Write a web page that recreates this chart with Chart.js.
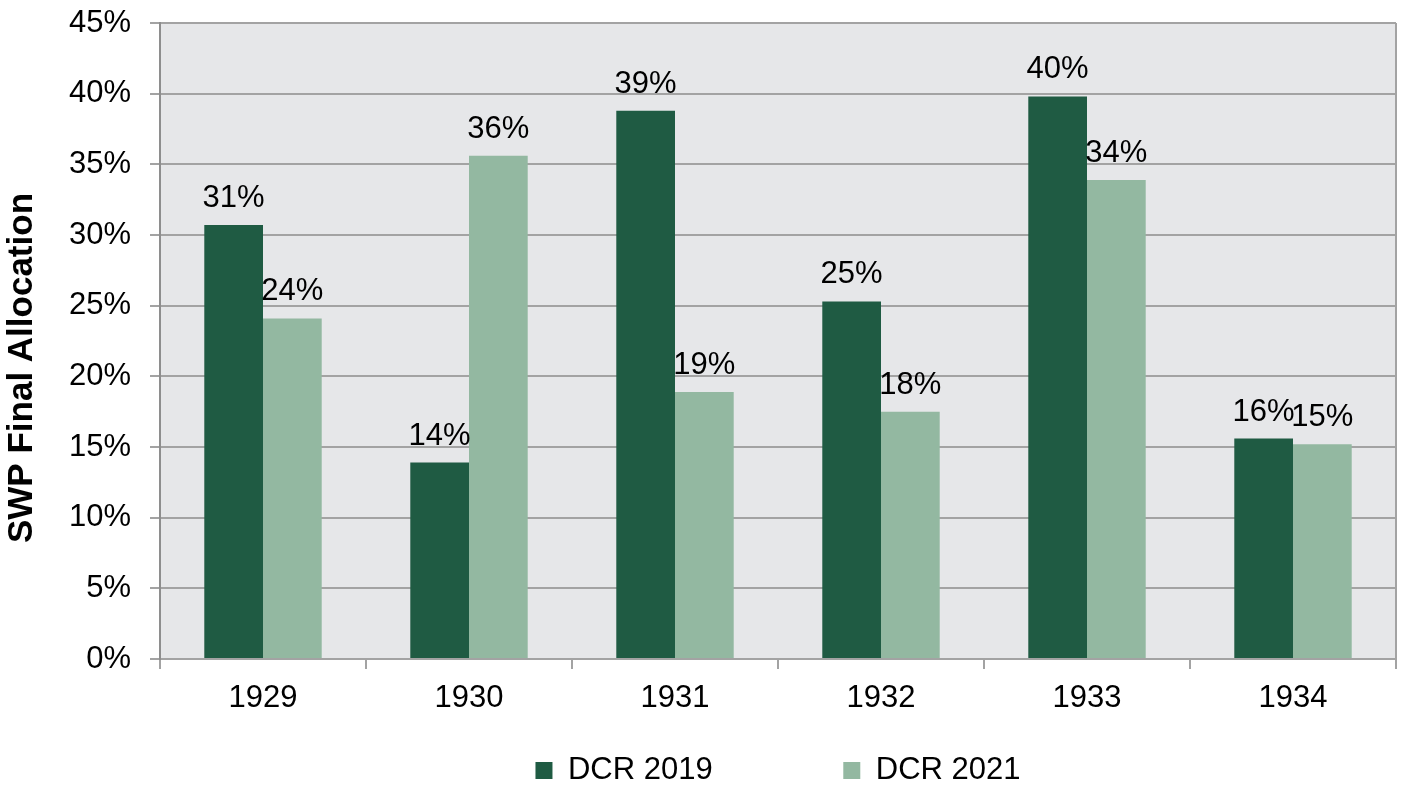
<!DOCTYPE html>
<html>
<head>
<meta charset="utf-8">
<script src="https://cdn.jsdelivr.net/npm/chart.js@4.4.1/dist/chart.umd.min.js"></script>
<style>
	html, body { margin: 0; padding: 0; background: #fff; }
</style>
</head>
<body>
<canvas id="allocationChart" width="1405" height="789"></canvas>
<script>
var years = ['1929', '1930', '1931', '1932', '1933', '1934'];
var dcr2019 = [30.7, 13.9, 38.8, 25.3, 39.8, 15.6];
var dcr2021 = [24.1, 35.6, 18.9, 17.5, 33.9, 15.2];
var yTicks = [0, 5, 10, 15, 20, 25, 30, 35, 40, 45];

var fontFamily = "'Liberation Sans', Arial, sans-serif";
var gridGray = '#a3a3a3';

// grey plot area, right border and the y title
var plotArea = {
	id: 'plotArea',
	beforeDraw: function(chart) {
		var a = chart.chartArea, ctx = chart.ctx;
		ctx.save();
		ctx.fillStyle = '#e6e7e9';
		ctx.fillRect(a.left, a.top, a.right - a.left, a.bottom - a.top);
		ctx.restore();
	},
	afterDraw: function(chart) {
		var a = chart.chartArea, ctx = chart.ctx;
		ctx.save();
		ctx.strokeStyle = gridGray;
		ctx.lineWidth = 2;
		ctx.beginPath();
		ctx.moveTo(a.right, a.top);
		ctx.lineTo(a.right, a.bottom);
		ctx.stroke();
		ctx.translate(22, (a.top + a.bottom) / 2 + 27);
		ctx.rotate(-Math.PI / 2);
		ctx.fillStyle = '#000';
		ctx.font = 'bold 35px ' + fontFamily;
		ctx.textAlign = 'center';
		ctx.textBaseline = 'middle';
		ctx.fillText('SWP Final Allocation', 0, 0);
		ctx.restore();
	}
};

// value labels over each bar
var barLabels = {
	id: 'barLabels',
	afterDatasetsDraw: function(chart) {
		var ctx = chart.ctx;
		ctx.save();
		ctx.fillStyle = '#000';
		ctx.font = '31px ' + fontFamily;
		ctx.textAlign = 'center';
		ctx.textBaseline = 'alphabetic';
		chart.data.datasets.forEach(function(ds, i) {
			chart.getDatasetMeta(i).data.forEach(function(bar, j) {
				ctx.fillText(Math.round(ds.data[j]) + '%', bar.x, bar.y - 18);
			});
		});
		ctx.restore();
	}
};

var allocationChart = new Chart(document.getElementById('allocationChart'), {
	type: 'bar',
	data: {
		labels: years,
		datasets: [{
			label: 'DCR 2019',
			data: dcr2019,
			backgroundColor: '#1f5b43',
			categoryPercentage: 0.57,
			barPercentage: 1
		}, {
			label: 'DCR 2021',
			data: dcr2021,
			backgroundColor: '#93b8a1',
			categoryPercentage: 0.57,
			barPercentage: 1
		}]
	},
	plugins: [plotArea, barLabels],
	options: {
		responsive: false,
		animation: false,
		layout: {
			padding: { top: 23, right: 9, bottom: -7, left: 0 }
		},
		plugins: {
			tooltip: { enabled: false },
			legend: {
				position: 'bottom',
				fullSize: false,
				labels: {
					color: '#000',
					font: { family: fontFamily, size: 31 },
					boxWidth: 17,
					boxHeight: 17,
					padding: 10,
					generateLabels: function(chart) {
						var items = Chart.defaults.plugins.legend.labels.generateLabels(chart);
						items[0].text = items[0].text + '              ';
						return items;
					}
				}
			}
		},
		scales: {
			x: {
				afterFit: function(scale) { scale.height = 86; },
				grid: {
					drawOnChartArea: false,
					drawTicks: true,
					tickLength: 10,
					color: gridGray,
					lineWidth: 2
				},
				border: { color: gridGray, width: 2 },
				ticks: {
					color: '#000',
					padding: 11,
					font: { family: fontFamily, size: 31 }
				}
			},
			y: {
				min: 0,
				max: 45,
				afterFit: function(scale) {
					scale.width = 160;
					scale.paddingTop = 0;
					scale.paddingBottom = 0;
				},
				afterBuildTicks: function(scale) {
					scale.ticks = yTicks.map(function(v) { return { value: v }; });
				},
				grid: {
					color: gridGray,
					lineWidth: 2,
					tickLength: 10
				},
				border: { color: '#8e8e8e', width: 2 },
				ticks: {
					color: '#000',
					padding: 19,
					font: { family: fontFamily, size: 31 },
					callback: function(v) { return v + '%'; }
				}
			}
		}
	}
});
</script>
</body>
</html>
